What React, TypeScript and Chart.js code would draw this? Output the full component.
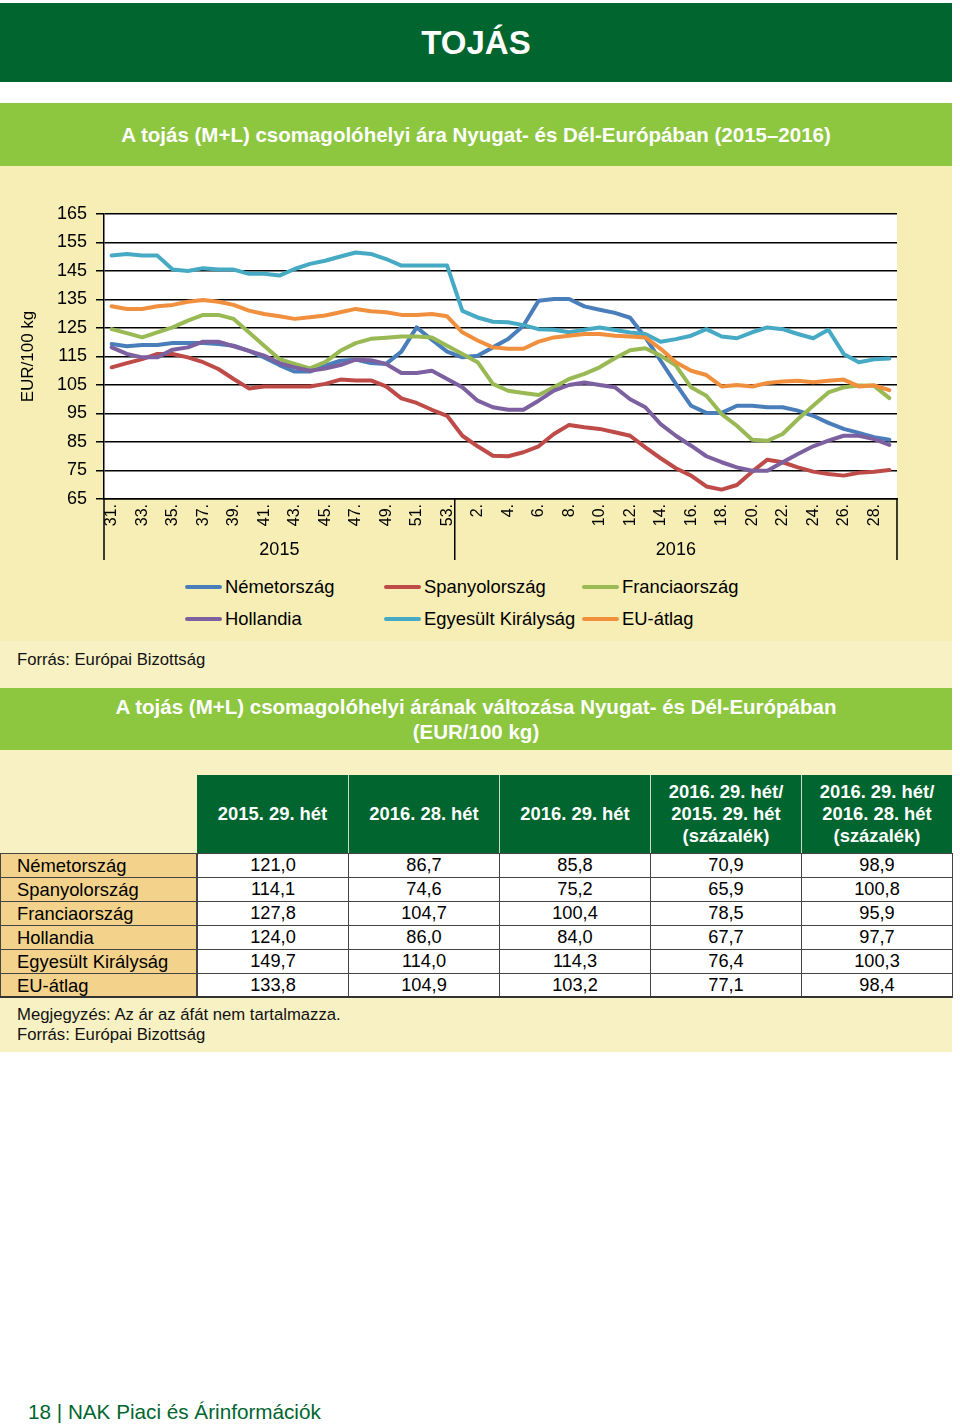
import React, { useEffect, useRef } from "react";
import { Chart, registerables } from "chart.js";

Chart.register(...registerables);

const FONT = '"Liberation Sans", Arial, Helvetica, sans-serif';

// ---- data ----
const weeks2015 = [31, 32, 33, 34, 35, 36, 37, 38, 39, 40, 41, 42, 43, 44, 45, 46, 47, 48, 49, 50, 51, 52, 53];
const weeks2016 = [1, 2, 3, 4, 5, 6, 7, 8, 9, 10, 11, 12, 13, 14, 15, 16, 17, 18, 19, 20, 21, 22, 23, 24, 25, 26, 27, 28, 29];
const yearLabels = ["2015", "2016"];
const weekLabels = [...weeks2015, ...weeks2016].map((w) => `${w}.`);

const seriesNames = ["Németország", "Spanyolország", "Franciaország", "Hollandia", "Egyesült Királyság", "EU-átlag"];
const seriesColors = ["#4a7ebb", "#be4b48", "#98b954", "#7d60a0", "#46aac5", "#f0903f"];

const nemetorszag = [
  119.4, 118.6, 119.0, 119.0, 119.7, 119.7, 119.7, 119.4, 118.8, 117.0,
  114.7, 112.0, 109.7, 109.7, 111.8, 113.5, 113.9, 112.7, 112.4, 116.7,
  125.2, 120.9, 116.7, 114.7, 115.3, 118.2, 121.1, 125.8, 134.6, 135.2,
  135.2, 132.6, 131.4, 130.3, 128.6, 121.7, 113.5, 105.4, 97.7, 95.2,
  95.2, 97.7, 97.7, 97.2, 97.2, 96.0, 94.2, 91.7, 89.6, 88.2,
  86.7, 85.8,
];
const spanyolorszag = [
  111.2, 112.7, 114.1, 115.9, 115.9, 114.7, 113.0, 110.6, 107.1, 103.8,
  104.5, 104.5, 104.5, 104.5, 105.4, 106.9, 106.6, 106.6, 104.5, 100.3,
  98.7, 96.3, 94.2, 87.2, 83.5, 80.2, 80.0, 81.4, 83.5, 87.8,
  91.0, 90.2, 89.6, 88.4, 87.2, 83.1, 79.3, 75.8, 73.2, 69.4,
  68.3, 69.9, 74.6, 78.8, 77.9, 76.1, 74.6, 73.8, 73.2, 74.2,
  74.6, 75.2,
];
const franciaorszag = [
  124.6, 123.2, 121.7, 123.5, 125.2, 127.6, 129.6, 129.6, 128.2, 123.5,
  118.8, 114.1, 112.4, 110.8, 113.0, 117.0, 119.7, 121.2, 121.6, 122.0,
  122.0, 121.7, 118.8, 115.9, 113.0, 105.4, 103.0, 102.2, 101.5, 104.2,
  107.1, 108.9, 111.2, 114.4, 117.2, 117.9, 115.3, 111.8, 104.2, 101.2,
  94.8, 90.7, 85.8, 85.4, 87.8, 93.0, 97.7, 102.4, 104.2, 104.8,
  104.7, 100.4,
];
const hollandia = [
  118.2, 115.9, 114.7, 114.7, 117.4, 118.2, 120.2, 120.2, 118.6, 117.0,
  115.3, 112.7, 111.2, 110.0, 110.8, 112.0, 113.9, 113.7, 112.4, 109.2,
  109.2, 110.0, 107.1, 104.2, 99.5, 97.2, 96.3, 96.3, 99.5, 103.0,
  105.0, 105.9, 105.0, 104.2, 100.0, 97.2, 91.3, 87.2, 83.7, 80.0,
  77.9, 76.1, 74.9, 74.9, 77.9, 80.8, 83.5, 85.5, 87.2, 87.2,
  86.0, 84.0,
];
const egyesultKiralysag = [
  150.4, 151.0, 150.4, 150.4, 145.5, 145.0, 146.0, 145.5, 145.5, 144.0,
  144.0, 143.4, 145.7, 147.5, 148.6, 150.1, 151.5, 151.0, 149.2, 146.9,
  146.9, 146.9, 146.9, 131.0, 128.7, 127.2, 127.0, 126.0, 124.6, 124.4,
  123.5, 124.4, 125.2, 124.3, 123.4, 122.9, 120.2, 121.1, 122.3, 124.6,
  122.0, 121.4, 123.5, 125.2, 124.6, 122.9, 121.4, 124.4, 115.9, 113.0,
  114.0, 114.3,
];
const euAtlag = [
  132.6, 131.7, 131.7, 132.6, 133.1, 134.2, 134.8, 134.2, 133.1, 131.1,
  129.9, 129.1, 128.2, 128.8, 129.4, 130.5, 131.7, 130.9, 130.5, 129.6,
  129.6, 129.9, 129.1, 123.5, 120.6, 118.2, 117.7, 117.7, 120.2, 121.7,
  122.3, 122.9, 122.9, 122.3, 122.0, 121.7, 117.7, 113.0, 110.0, 108.5,
  104.5, 105.0, 104.5, 105.7, 106.2, 106.5, 106.0, 106.5, 106.9, 104.5,
  104.9, 103.2,
];
const seriesValues = [nemetorszag, spanyolorszag, franciaorszag, hollandia, egyesultKiralysag, euAtlag];

const yMin = 65;
const yMax = 165;
const yStep = 10;

// table
const tableHeaders = [
  ["2015. 29. hét"],
  ["2016. 28. hét"],
  ["2016. 29. hét"],
  ["2016. 29. hét/", "2015. 29. hét", "(százalék)"],
  ["2016. 29. hét/", "2016. 28. hét", "(százalék)"],
];
const price2015w29 = [121.0, 114.1, 127.8, 124.0, 149.7, 133.8];
const price2016w28 = [86.7, 74.6, 104.7, 86.0, 114.0, 104.9];
const price2016w29 = [85.8, 75.2, 100.4, 84.0, 114.3, 103.2];
const pctVsPrevYear = [70.9, 65.9, 78.5, 67.7, 76.4, 77.1];
const pctVsPrevWeek = [98.9, 100.8, 95.9, 97.7, 100.3, 98.4];
const tableColumns = [price2015w29, price2016w28, price2016w29, pctVsPrevYear, pctVsPrevWeek];

const fmt = (v: number) => v.toFixed(1).replace(".", ",");

const DARK_GREEN = "#00652f";
const LIGHT_GREEN = "#8dc63f";
const YELLOW = "#f6eeb5";
const YELLOW2 = "#f8f1c4";

const groupPlugin = {
  id: "yearGroups",
  beforeDraw(chart: any) {
    const { ctx, chartArea } = chart;
    ctx.save();
    ctx.fillStyle = "#ffffff";
    ctx.fillRect(chartArea.left, chartArea.top, chartArea.right - chartArea.left, chartArea.bottom - chartArea.top);
    ctx.restore();
  },
  afterDraw(chart: any) {
    const { ctx, chartArea, scales } = chart;
    const xs = scales.x;
    const n1 = weeks2015.length;
    const left = chartArea.left;
    const right = chartArea.right;
    const sep = (xs.getPixelForValue(n1 - 1) + xs.getPixelForValue(n1)) / 2;
    const b = chartArea.bottom;
    ctx.save();
    ctx.strokeStyle = "#000";
    ctx.lineWidth = 1.5;
    [left, sep, right].forEach((px) => {
      ctx.beginPath();
      ctx.moveTo(px, b);
      ctx.lineTo(px, b + 61);
      ctx.stroke();
    });
    ctx.font = `18px ${FONT}`;
    ctx.fillStyle = "#000";
    ctx.textAlign = "center";
    ctx.textBaseline = "middle";
    ctx.fillText(yearLabels[0], (left + sep) / 2, b + 51);
    ctx.fillText(yearLabels[1], (sep + right) / 2, b + 51);
    ctx.restore();
  },
};

function EggChart() {
  const ref = useRef<HTMLCanvasElement | null>(null);
  useEffect(() => {
    if (!ref.current) return;
    const chart = new Chart(ref.current, {
      type: "line",
      data: {
        labels: weekLabels,
        datasets: seriesNames.map((name, i) => ({
          label: name,
          data: seriesValues[i],
          borderColor: seriesColors[i],
          backgroundColor: seriesColors[i],
          borderWidth: 4,
          pointRadius: 0,
          tension: 0,
          borderJoinStyle: "round" as const,
          borderCapStyle: "round" as const,
          order: seriesNames.length - i,
        })),
      },
      options: {
        responsive: false,
        animation: false,
        layout: { padding: { top: 48, right: 55, left: 0, bottom: 0 } },
        plugins: { legend: { display: false }, tooltip: { enabled: false } },
        scales: {
          x: {
            type: "category",
            offset: true,
            grid: { display: false, drawTicks: false },
            border: { display: true, color: "#000", width: 1.5 },
            ticks: {
              autoSkip: false,
              maxRotation: 90,
              minRotation: 90,
              padding: 5,
              color: "#000",
              font: { family: FONT, size: 16 },
              callback: (_v: any, i: number) => (i % 2 === 0 ? weekLabels[i] : ""),
            },
            afterFit: (s: any) => {
              s.height = 76;
            },
          },
          y: {
            min: yMin,
            max: yMax,
            ticks: { stepSize: yStep, color: "#000", font: { family: FONT, size: 18 }, padding: 9 },
            grid: { color: "#000", lineWidth: 1.5, tickLength: 8, drawTicks: true },
            border: { color: "#000", width: 1.5 },
            title: {
              display: true,
              text: "EUR/100 kg",
              color: "#000",
              font: { family: FONT, size: 17 },
              padding: { top: 18, bottom: 0 },
            },
            afterFit: (s: any) => {
              s.width = 104;
            },
          },
        },
      },
      plugins: [groupPlugin],
    } as any);
    return () => chart.destroy();
  }, []);
  return <canvas ref={ref} width={952} height={409} style={{ display: "block", width: 952, height: 409 }} />;
}

const abs = (style: React.CSSProperties): React.CSSProperties => ({ position: "absolute", ...style });

const legendCols = [185, 384, 582];
const legendRows = [587, 619];

export default function App() {
  const colX = [0, 197, 348, 499, 650, 801, 952];
  const headerTop = 775;
  const headerH = 78;
  const rowH = 24;
  return (
    <div style={abs({ left: 0, top: 0, width: 960, height: 1426, background: "#fff", fontFamily: FONT, overflow: "hidden" })}>
      {/* page header */}
      <div style={abs({ left: 0, top: 3, width: 952, height: 79, background: DARK_GREEN, color: "#fff", display: "flex", alignItems: "center", justifyContent: "center", fontWeight: "bold", fontSize: 33 })}>
        TOJÁS
      </div>
      {/* chart title */}
      <div style={abs({ left: 0, top: 103, width: 952, height: 63, background: LIGHT_GREEN, color: "#fff", display: "flex", alignItems: "center", justifyContent: "center", fontWeight: "bold", fontSize: 20.5 })}>
        A tojás (M+L) csomagolóhelyi ára Nyugat- és Dél-Európában (2015–2016)
      </div>
      {/* chart panel */}
      <div style={abs({ left: 0, top: 166, width: 952, height: 475, background: YELLOW })}>
        <EggChart />
        {seriesNames.map((name, i) => {
          const cx = legendCols[i % 3];
          const cy = legendRows[Math.floor(i / 3)] - 166;
          return (
            <div key={name} style={abs({ left: cx, top: cy - 12, height: 24, display: "flex", alignItems: "center", whiteSpace: "nowrap" })}>
              <div style={{ width: 37, height: 4, borderRadius: 2, background: seriesColors[i] }} />
              <span style={{ fontSize: 18.4, color: "#000", marginLeft: 3 }}>{name}</span>
            </div>
          );
        })}
      </div>
      {/* source row */}
      <div style={abs({ left: 0, top: 641, width: 952, height: 47, background: YELLOW2 })}>
        <div style={abs({ left: 17, top: 9, fontSize: 16.7, lineHeight: "20px", color: "#111" })}>Forrás: Európai Bizottság</div>
      </div>
      {/* table title */}
      <div style={abs({ left: 0, top: 688, width: 952, height: 62, background: LIGHT_GREEN, color: "#fff", display: "flex", flexDirection: "column", alignItems: "center", justifyContent: "center", fontWeight: "bold", fontSize: 20.5, lineHeight: "25px", textAlign: "center" })}>
        <div>A tojás (M+L) csomagolóhelyi árának változása Nyugat- és Dél-Európában</div>
        <div>(EUR/100 kg)</div>
      </div>
      {/* table panel */}
      <div style={abs({ left: 0, top: 750, width: 952, height: 302, background: YELLOW2 })} />
      {tableHeaders.map((lines, c) => (
        <div key={`h${c}`} style={abs({ left: colX[c + 1], top: headerTop, width: colX[c + 2] - colX[c + 1], height: headerH, boxSizing: "border-box", background: DARK_GREEN, borderLeft: c === 0 ? "none" : "1px solid #c9d9c9", color: "#fff", fontWeight: "bold", fontSize: 18.4, lineHeight: "22px", display: "flex", flexDirection: "column", alignItems: "center", justifyContent: "center", textAlign: "center" })}>
          {lines.map((l) => (
            <div key={l}>{l}</div>
          ))}
        </div>
      ))}
      {seriesNames.map((name, r) => {
        const top = headerTop + headerH + r * rowH;
        return (
          <React.Fragment key={name}>
            <div style={abs({ left: 0, top, width: colX[1], height: rowH + 1, boxSizing: "border-box", background: "#f3d38b", border: "1px solid #444", paddingLeft: 16, fontSize: 18.4, lineHeight: `${rowH - 1}px`, color: "#000" })}>
              {name}
            </div>
            {tableColumns.map((col, c) => (
              <div key={c} style={abs({ left: colX[c + 1], top, width: colX[c + 2] - colX[c + 1] + 1, height: rowH + 1, boxSizing: "border-box", background: "#fff", border: "1px solid #444", textAlign: "center", fontSize: 18.2, lineHeight: `${rowH - 1}px`, color: "#000" })}>
                {fmt(col[r])}
              </div>
            ))}
          </React.Fragment>
        );
      })}
      <div style={abs({ left: 0, top: headerTop + headerH + seriesNames.length * rowH - 1, width: 952, height: 2, background: "#333" })} />
      <div style={abs({ left: 17, top: 1005, fontSize: 16.7, lineHeight: "20px", color: "#111" })}>Megjegyzés: Az ár az áfát nem tartalmazza.</div>
      <div style={abs({ left: 17, top: 1025, fontSize: 16.7, lineHeight: "20px", color: "#111" })}>Forrás: Európai Bizottság</div>
      {/* footer */}
      <div style={abs({ left: 28, top: 1400, fontSize: 20.7, lineHeight: "24px", color: DARK_GREEN })}>18 | NAK Piaci és Árinformációk</div>
    </div>
  );
}
